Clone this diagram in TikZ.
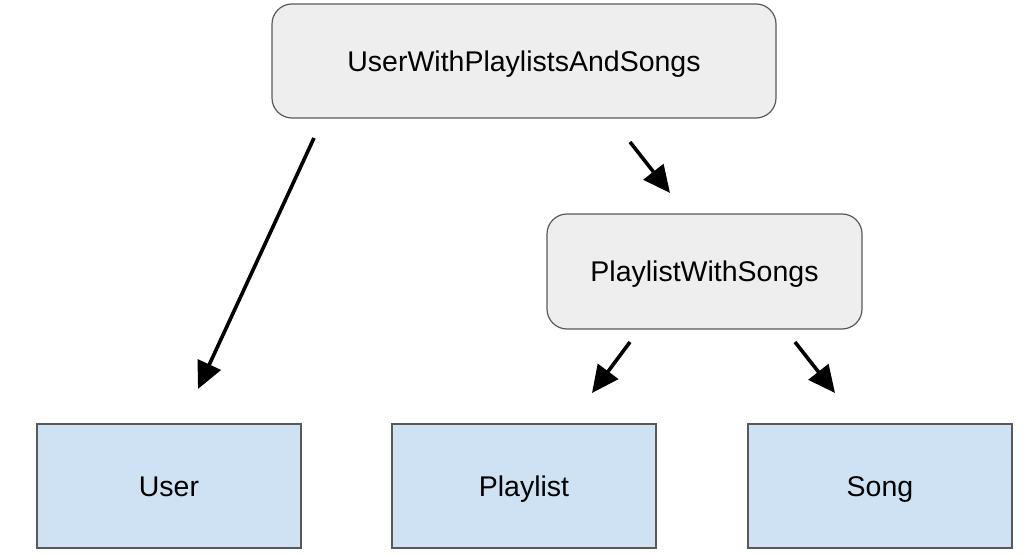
\documentclass[tikz,border=0pt]{standalone}
\usepackage{fontspec}
\setmainfont{Liberation Sans}
\usetikzlibrary{arrows.meta}
\definecolor{grayfill}{HTML}{EEEEEE}
\definecolor{bluefill}{HTML}{CFE2F3}
\definecolor{edge}{HTML}{595959}
\begin{document}
\begin{tikzpicture}[x=1pt,y=-1pt,
  txt/.style={font=\fontsize{28.5}{32}\selectfont,text height=20.4pt,text depth=0pt},
  roundbox/.style={draw=edge,line width=1.2pt,fill=grayfill,rounded corners=20pt,inner sep=0pt,txt},
  entbox/.style={draw=edge,line width=1.2pt,fill=bluefill,inner sep=0pt,minimum width=264pt,minimum height=124pt,txt},
  arr/.style={line width=3.6pt,-{Triangle[length=27pt,width=25pt]}}]
\useasboundingbox (0,0) rectangle (1028,556);
\node[roundbox,minimum width=504pt,minimum height=114pt] (top) at (524,61) {UserWithPlaylistsAndSongs};
\node[roundbox,minimum width=315pt,minimum height=115pt] (pws) at (704.5,271.5) {PlaylistWithSongs};
\node[entbox] (user) at (169,486) {User};
\node[entbox] (playlist) at (524,486) {Playlist};
\node[entbox] (song) at (880,486) {Song};
\coordinate (a1s) at (314,138);
\coordinate (a1e) at (198,389);
\coordinate (a2s) at (630,142);
\coordinate (a2e) at (670,193);
\coordinate (a3s) at (630,342);
\coordinate (a3e) at (592,393);
\coordinate (a4s) at (795,342);
\coordinate (a4e) at (835,393);
\draw[arr] (a1s) -- (a1e);
\draw[arr] (a2s) -- (a2e);
\draw[arr] (a3s) -- (a3e);
\draw[arr] (a4s) -- (a4e);
\end{tikzpicture}
\end{document}
